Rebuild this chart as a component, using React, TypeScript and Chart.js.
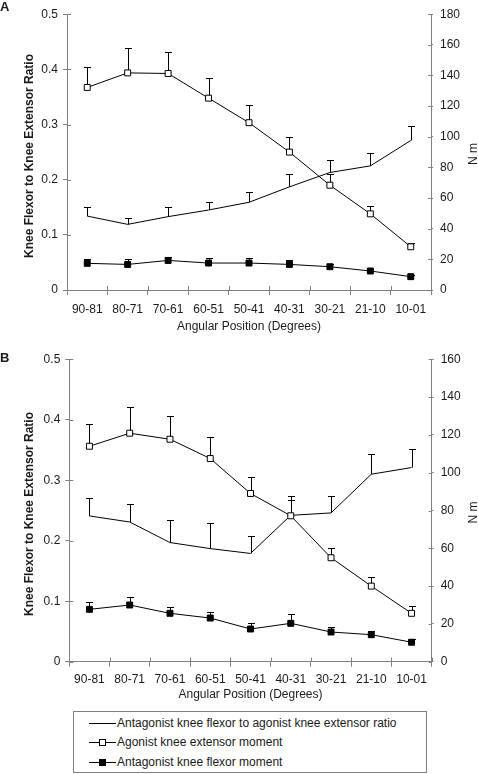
import { useEffect, useRef } from "react";
import { Chart, registerables } from "chart.js";
Chart.register(...registerables);

const FONT = "'Liberation Sans', Arial, Helvetica, sans-serif";
const TEXT = "#1a1a1a";
const AXIS = "#808080";

const categories = ["90-81", "80-71", "70-61", "60-51", "50-41", "40-31", "30-21", "21-10", "10-01"];
const ratioTicks = [0, 0.1, 0.2, 0.3, 0.4, 0.5];

// Panel A
const ratioA = [0.134, 0.119, 0.133, 0.145, 0.159, 0.187, 0.213, 0.225, 0.271];
const ratioAErr = [0.017, 0.011, 0.017, 0.015, 0.019, 0.023, 0.023, 0.024, 0.027];
const extA = [132.2, 141.7, 141.3, 125.2, 109.2, 90.0, 68.4, 49.7, 28.2];
const extAErr = [13.6, 16.0, 14.1, 13.0, 11.8, 9.6, 7.6, 4.8, 2.8];
const flexA = [17.4, 16.7, 19.3, 17.6, 17.6, 16.7, 15.2, 12.4, 8.7];
const flexAErr = [2.8, 3.5, 2.4, 3.0, 3.4, 2.8, 1.7, 1.5, 1.1];
const momentMaxA = 180;

// Panel B
const ratioB = [0.241, 0.231, 0.197, 0.187, 0.179, 0.242, 0.246, 0.31, 0.321];
const ratioBErr = [0.03, 0.029, 0.037, 0.042, 0.029, 0.032, 0.028, 0.033, 0.03];
const extB = [114.0, 120.9, 117.7, 107.5, 89.0, 77.2, 55.0, 40.0, 25.6];
const extBErr = [11.8, 13.7, 12.2, 11.6, 8.8, 8.2, 5.3, 4.8, 3.8];
const flexB = [27.7, 30.0, 25.6, 23.1, 17.3, 20.3, 15.7, 14.3, 10.3];
const flexBErr = [3.7, 4.0, 3.3, 3.2, 3.3, 4.9, 2.8, 1.9, 1.5];
const momentMaxB = 160;

const legendLabels = [
  "Antagonist knee flexor to agonist knee extensor ratio",
  "Agonist knee extensor moment",
  "Antagonist knee flexor moment",
];
const xTitle = "Angular Position (Degrees)";
const leftTitle = "Knee Flexor to Knee Extensor Ratio";
const rightTitle = "N m";

type Panel = {
  letter: string;
  top: number;
  height: number;
  padTop: number;
  leftW: number;
  rightW: number;
  bottomH: number;
  momentMax: number;
  tickPad: number;
  titlePad: number;
  letterPos: [number, number];
  leftTitlePos: [number, number];
  rightTitlePos: [number, number];
  ratio: number[];
  ratioErr: number[];
  ext: number[];
  extErr: number[];
  flex: number[];
  flexErr: number[];
};

const panels: Panel[] = [
  {
    letter: "A",
    top: 0,
    height: 340,
    padTop: 13.5,
    leftW: 67,
    rightW: 47,
    bottomH: 50,
    momentMax: momentMaxA,
    tickPad: 7,
    titlePad: 6.5,
    letterPos: [0, 11],
    leftTitlePos: [32.5, 156],
    rightTitlePos: [477, 154],
    ratio: ratioA,
    ratioErr: ratioAErr,
    ext: extA,
    extErr: extAErr,
    flex: flexA,
    flexErr: flexAErr,
  },
  {
    letter: "B",
    top: 340,
    height: 365,
    padTop: 19.3,
    leftW: 69.3,
    rightW: 46.3,
    bottomH: 43.3,
    momentMax: momentMaxB,
    tickPad: 6,
    titlePad: 3.4,
    letterPos: [0, 21.7],
    leftTitlePos: [33.3, 174],
    rightTitlePos: [477, 172.5],
    ratio: ratioB,
    ratioErr: ratioBErr,
    ext: extB,
    extErr: extBErr,
    flex: flexB,
    flexErr: flexBErr,
  },
];

const errorBarPlugin = {
  id: "errorBars",
  beforeDatasetsDraw(chart: any) {
    const ctx = chart.ctx;
    chart.data.datasets.forEach((ds: any, i: number) => {
      const errs: number[] | undefined = ds.errors;
      if (!errs) return;
      const meta = chart.getDatasetMeta(i);
      const scale = chart.scales[ds.yAxisID];
      ctx.save();
      ctx.strokeStyle = "#000";
      ctx.lineWidth = 1;
      meta.data.forEach((pt: any, j: number) => {
        const v = ds.data[j] as number;
        const yTop = Math.round(scale.getPixelForValue(v + errs[j])) + 0.5;
        const x = Math.round(pt.x) + 0.5;
        ctx.beginPath();
        ctx.moveTo(x, pt.y);
        ctx.lineTo(x, yTop);
        ctx.moveTo(x - 3.5, yTop);
        ctx.lineTo(x + 3.5, yTop);
        ctx.stroke();
      });
      ctx.restore();
    });
  },
};

function makeDecorPlugin(p: Panel) {
  return {
    id: "decor" + p.letter,
    afterDraw(chart: any) {
      const ctx = chart.ctx;
      const area = chart.chartArea;
      ctx.save();
      ctx.strokeStyle = AXIS;
      ctx.lineWidth = 1;
      ctx.beginPath();
      const y = chart.scales.y;
      y.ticks.forEach((_t: any, k: number) => {
        const py = Math.round(y.getPixelForTick(k)) + 0.5;
        ctx.moveTo(area.left, py);
        ctx.lineTo(area.left + 4, py);
      });
      const y1 = chart.scales.y1;
      y1.ticks.forEach((_t: any, k: number) => {
        const py = Math.round(y1.getPixelForTick(k)) + 0.5;
        ctx.moveTo(area.right - 3, py);
        ctx.lineTo(area.right, py);
      });
      const n = categories.length;
      for (let k = 0; k <= n; k++) {
        const px = Math.round(area.left + (k * (area.right - area.left)) / n) + 0.5;
        ctx.moveTo(px, area.bottom - 4);
        ctx.lineTo(px, area.bottom);
      }
      ctx.stroke();

      ctx.fillStyle = TEXT;
      ctx.font = `bold 13px ${FONT}`;
      ctx.textAlign = "left";
      ctx.textBaseline = "alphabetic";
      ctx.fillText(p.letter, p.letterPos[0], p.letterPos[1]);
      ctx.save();
      ctx.translate(p.leftTitlePos[0], p.leftTitlePos[1]);
      ctx.rotate(-Math.PI / 2);
      ctx.textAlign = "center";
      ctx.font = `bold 12px ${FONT}`;
      ctx.fillText(leftTitle, 0, 0);
      ctx.restore();
      ctx.save();
      ctx.translate(p.rightTitlePos[0], p.rightTitlePos[1]);
      ctx.rotate(-Math.PI / 2);
      ctx.textAlign = "center";
      ctx.font = `12px ${FONT}`;
      ctx.fillText(rightTitle, 0, 0);
      ctx.restore();
      ctx.restore();
    },
  };
}

function ChartPanel({ p }: { p: Panel }) {
  const ref = useRef<HTMLCanvasElement | null>(null);
  useEffect(() => {
    if (!ref.current) return;
    const tickFont = { family: FONT, size: 12 };
    const chart = new Chart(ref.current, {
      type: "line",
      data: {
        labels: categories,
        datasets: [
          {
            label: legendLabels[1],
            data: p.ext,
            errors: p.extErr,
            yAxisID: "y1",
            order: 0,
            borderColor: "#000",
            borderWidth: 1,
            pointStyle: "rect",
            pointRadius: 4.2,
            pointBackgroundColor: "#fff",
            pointBorderColor: "#000",
            pointBorderWidth: 1,
            tension: 0,
            fill: false,
          } as any,
          {
            label: legendLabels[2],
            data: p.flex,
            errors: p.flexErr,
            yAxisID: "y1",
            order: 1,
            borderColor: "#000",
            borderWidth: 1,
            pointStyle: "rect",
            pointRadius: 4.2,
            pointBackgroundColor: "#000",
            pointBorderColor: "#000",
            pointBorderWidth: 1,
            tension: 0,
            fill: false,
          } as any,
          {
            label: legendLabels[0],
            data: p.ratio,
            errors: p.ratioErr,
            yAxisID: "y",
            order: 2,
            borderColor: "#000",
            borderWidth: 1,
            pointRadius: 0,
            tension: 0,
            fill: false,
          } as any,
        ],
      },
      options: {
        animation: false,
        responsive: false,
        events: [],
        layout: { padding: { top: p.padTop, left: 0, right: 0, bottom: 0 } },
        plugins: { legend: { display: false }, tooltip: { enabled: false }, title: { display: false } },
        scales: {
          x: {
            type: "category",
            offset: true,
            grid: { display: true, offset: true, drawOnChartArea: false, drawTicks: true, tickLength: 5, color: AXIS },
            border: { display: true, color: AXIS },
            ticks: { font: tickFont, color: TEXT, padding: p.tickPad, maxRotation: 0, autoSkip: false },
            title: { display: true, text: xTitle, font: { family: FONT, size: 12 }, color: TEXT, padding: { top: 0, bottom: p.titlePad } },
            afterFit: (s: any) => {
              s.height = p.bottomH;
            },
          },
          y: {
            type: "linear",
            position: "left",
            min: 0,
            max: 0.5,
            afterBuildTicks: (s: any) => {
              s.ticks = ratioTicks.map((v) => ({ value: v }));
            },
            grid: { display: true, drawOnChartArea: false, drawTicks: true, tickLength: 4, color: AXIS },
            border: { display: true, color: AXIS },
            ticks: { font: tickFont, color: TEXT, padding: 5, callback: (v: any) => String(Math.round(Number(v) * 10) / 10) },
            afterFit: (s: any) => {
              s.width = p.leftW;
            },
          },
          y1: {
            type: "linear",
            position: "right",
            min: 0,
            max: p.momentMax,
            ticks: { stepSize: 20, font: tickFont, color: TEXT, padding: 7 },
            grid: { display: true, drawOnChartArea: false, drawTicks: true, tickLength: 2, color: AXIS },
            border: { display: true, color: AXIS },
            afterFit: (s: any) => {
              s.width = p.rightW;
            },
          },
        },
      } as any,
      plugins: [errorBarPlugin, makeDecorPlugin(p)],
    });
    return () => chart.destroy();
  }, [p]);
  return (
    <canvas
      ref={ref}
      width={478}
      height={p.height}
      style={{ position: "absolute", left: 0, top: p.top, width: 478, height: p.height }}
    />
  );
}

function LegendSample({ kind }: { kind: number }) {
  return (
    <svg width={28} height={10} style={{ position: "absolute", left: 15, top: 0 }}>
      <line x1={0} y1={5.5} x2={27} y2={5.5} stroke="#000" strokeWidth={1} />
      {kind === 1 && <rect x={10.5} y={2.5} width={6} height={6} fill="#fff" stroke="#000" strokeWidth={1} />}
      {kind === 2 && <rect x={10.5} y={2.5} width={6} height={6} fill="#000" stroke="#000" strokeWidth={1} />}
    </svg>
  );
}

export default function App() {
  const rowCenters = [10.7, 30, 49.7];
  return (
    <div style={{ position: "absolute", left: 0, top: 0, width: 478, height: 774, background: "#fff", overflow: "hidden" }}>
      {panels.map((p) => (
        <ChartPanel key={p.letter} p={p} />
      ))}
      <div
        style={{
          position: "absolute",
          left: 73,
          top: 711,
          width: 354,
          height: 62,
          border: `1px solid ${AXIS}`,
          boxSizing: "border-box",
          fontFamily: FONT,
          fontSize: 12,
          color: TEXT,
        }}
      >
        {legendLabels.map((lab, i) => (
          <div key={lab} style={{ position: "absolute", left: 0, top: rowCenters[i] - 7, height: 14, width: 352 }}>
            <div style={{ position: "absolute", left: 0, top: 2 }}>
              <LegendSample kind={i} />
            </div>
            <div style={{ position: "absolute", left: 43, top: 0, lineHeight: "14px", whiteSpace: "nowrap" }}>{lab}</div>
          </div>
        ))}
      </div>
    </div>
  );
}
